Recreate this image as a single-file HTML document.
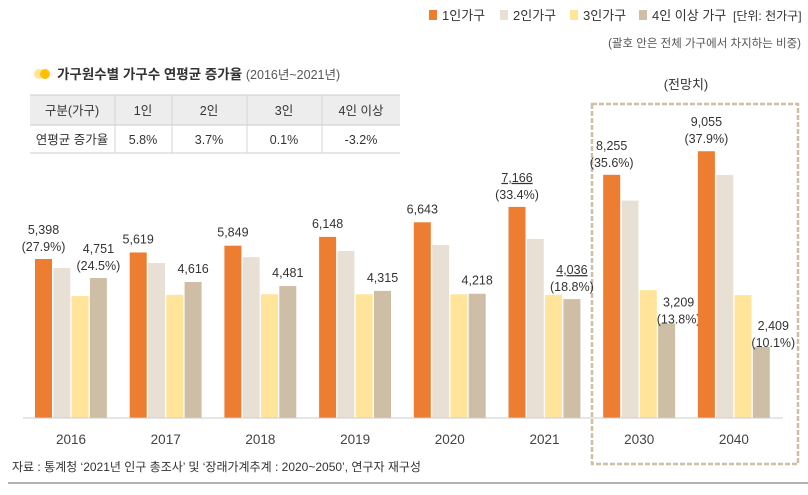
<!DOCTYPE html>
<html><head><meta charset="utf-8">
<style>
body{margin:0;background:#fff;}
svg{display:block;font-family:"Liberation Sans","Noto Sans CJK KR",sans-serif;}
</style></head>
<body>
<svg id="chart" width="808" height="495" viewBox="0 0 808 495">
  <g font-size="13" fill="#333">
    <rect x="429" y="10" width="8" height="10" fill="#ED7D31"/>
    <text x="442" y="20">1인가구</text>
    <rect x="500" y="10" width="8" height="10" fill="#E8E0D5"/>
    <text x="513" y="20">2인가구</text>
    <rect x="570" y="10" width="8" height="10" fill="#FFE499"/>
    <text x="583" y="20">3인가구</text>
    <rect x="639" y="10" width="8" height="10" fill="#CDBEA5"/>
    <text x="652" y="20">4인 이상 가구</text>
    <text x="733" y="20" font-size="12">[단위: 천가구]</text>
  </g>
  <text x="801" y="47" font-size="11.5" fill="#555" text-anchor="end">(괄호 안은 전체 가구에서 차지하는 비중)</text>

  <g>
    <circle cx="39" cy="74" r="5" fill="#FFE499"/>
    <circle cx="45" cy="74" r="5" fill="#FFC000"/>
    <text x="57" y="79" font-size="13.5" font-weight="bold" fill="#333">가구원수별 가구수 연평균 증가율 <tspan font-weight="normal" fill="#555" font-size="12.5">(2016년~2021년)</tspan></text>
  </g>
  <g font-size="12.5" fill="#333" text-anchor="middle">
    <rect x="30" y="95" width="370" height="30" fill="#EDEDED"/>
    <line x1="30" y1="95" x2="400" y2="95" stroke="#ccc"/>
    <line x1="30" y1="125" x2="400" y2="125" stroke="#ccc"/>
    <line x1="30" y1="153" x2="400" y2="153" stroke="#ccc"/>
    <g stroke="#d5d5d5"><line x1="115" y1="95" x2="115" y2="153"/><line x1="172" y1="95" x2="172" y2="153"/><line x1="247" y1="95" x2="247" y2="153"/><line x1="322" y1="95" x2="322" y2="153"/></g>
    <text x="72" y="115">구분(가구)</text><text x="143" y="115">1인</text><text x="209" y="115">2인</text><text x="284" y="115">3인</text><text x="361" y="115">4인 이상</text>
    <text x="72" y="144">연평균 증가율</text><text x="143" y="144">5.8%</text><text x="209" y="144">3.7%</text><text x="284" y="144">0.1%</text><text x="361" y="144">-3.2%</text>
  </g>

  <rect x="592" y="104" width="206" height="360" fill="none" stroke="#CDBEA5" stroke-width="2.5" stroke-dasharray="5,2"/>
  <text x="686" y="89" font-size="13" fill="#333" text-anchor="middle">(전망치)</text>

  <g id="bars"></g>
  <line x1="23" y1="418" x2="783" y2="418" stroke="#ccc" stroke-width="1"/>
  <g id="xlabels"></g>

  <text x="12" y="471" font-size="12" fill="#333">자료 : 통계청 ‘2021년 인구 총조사’ 및 ‘장래가계추계 : 2020~2050’, 연구자 재구성</text>
  <line x1="8" y1="483" x2="808" y2="483" stroke="#666" stroke-width="1"/>
</svg>
<script>
const years = ["2016","2017","2018","2019","2020","2021","2030","2040"];
const one = [5398,5619,5849,6148,6643,7166,8255,9055];
const two = [5090,5260,5460,5670,5870,6080,7380,8250];
const three = [4140,4180,4200,4200,4200,4180,4340,4170];
const four = [4751,4616,4481,4315,4218,4036,3209,2409];
const oneLabels = ["5,398","5,619","5,849","6,148","6,643","7,166","8,255","9,055"];
const onePct = ["(27.9%)","","","","","(33.4%)","(35.6%)","(37.9%)"];
const fourLabels = ["4,751","4,616","4,481","4,315","4,218","4,036","3,209","2,409"];
const fourPct = ["(24.5%)","","","","","(18.8%)","(13.8%)","(10.1%)"];

const NS="http://www.w3.org/2000/svg";
const base=418, k=0.02946;
const y=v=>base-v*k;
const gx=i=>35+i*94.7;
const bw=17, step=18.3;
const series=[[one,"#ED7D31","bar-1person"],[two,"#E8E0D5","bar-2person"],[three,"#FFE499","bar-3person"],[four,"#CDBEA5","bar-4person"]];
const bars=document.getElementById('bars');
function txt(x,yy,s,name,extra){const t=document.createElementNS(NS,'text');t.setAttribute('x',x);t.setAttribute('y',yy);t.setAttribute('font-size','12.5');t.setAttribute('fill','#333');t.setAttribute('text-anchor','middle');if(extra)t.setAttribute('text-decoration','underline');t.textContent=s;


bars.appendChild(t);}
years.forEach((yr,i)=>{
  series.forEach(([arr,c,nm],s)=>{
    const r=document.createElementNS(NS,'rect');
    r.setAttribute('x',gx(i)+s*step);r.setAttribute('y',y(arr[i]));r.setAttribute('width',bw);r.setAttribute('height',base-y(arr[i]));r.setAttribute('fill',c);
    
    
    bars.appendChild(r);
  });
  const cx1=gx(i)+bw/2, cx4=gx(i)+3*step+bw/2;
  const t1=y(one[i]);
  if(onePct[i]){txt(cx1,t1-25,oneLabels[i],'value-1person-'+yr,i==5);txt(cx1,t1-8,onePct[i],'pct-1person-'+yr);}
  else txt(cx1,t1-9,oneLabels[i],'value-1person-'+yr);
  const t4=y(four[i]);
  const off=i>=6?12:0;
  if(fourPct[i]){txt(cx4+off,t4-25+(i>=6?8:0),fourLabels[i],'value-4person-'+yr,i==5);txt(cx4+off,t4-8+(i>=6?8:0),fourPct[i],'pct-4person-'+yr);}
  else txt(cx4,t4-9,fourLabels[i],'value-4person-'+yr);
  const l=document.createElementNS(NS,'text');
  l.setAttribute('x',gx(i)+36);l.setAttribute('y',444);l.setAttribute('font-size','13.5');l.setAttribute('fill','#444');l.setAttribute('text-anchor','middle');l.textContent=yr;
  
  
  document.getElementById('xlabels').appendChild(l);
});
</script>
</body></html>
